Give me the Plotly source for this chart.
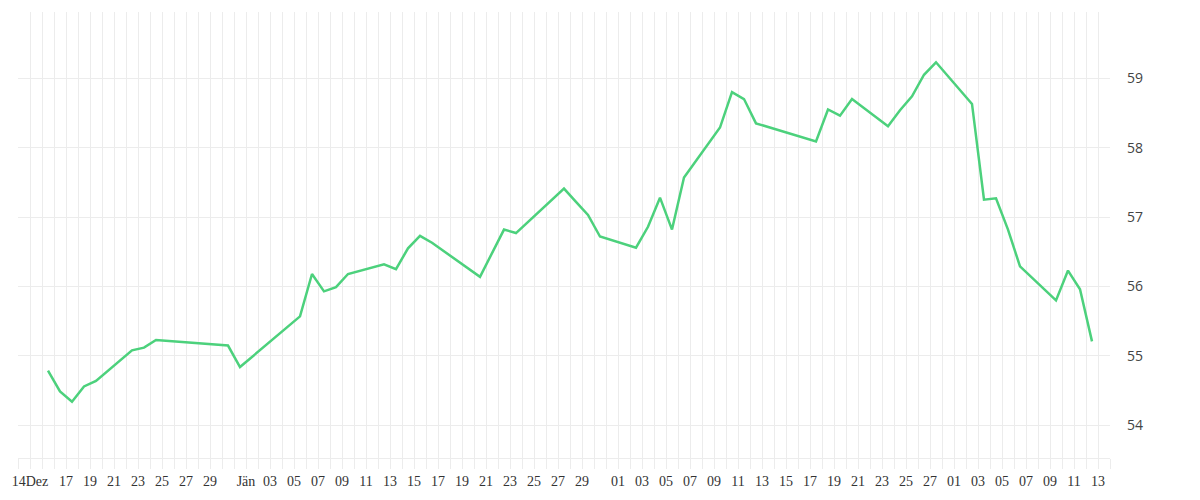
import pandas as pd
import plotly.graph_objects as go

# trading days and closing values
dates = ["2014-12-15", "2014-12-16", "2014-12-17", "2014-12-18", "2014-12-19",
         "2014-12-22", "2014-12-23", "2014-12-24", "2014-12-30", "2014-12-31",
         "2015-01-05", "2015-01-06", "2015-01-07", "2015-01-08", "2015-01-09",
         "2015-01-12", "2015-01-13", "2015-01-14", "2015-01-15", "2015-01-16",
         "2015-01-20", "2015-01-22", "2015-01-23", "2015-01-27", "2015-01-28",
         "2015-01-29", "2015-01-30", "2015-02-02", "2015-02-03", "2015-02-04",
         "2015-02-05", "2015-02-06", "2015-02-09", "2015-02-10", "2015-02-11",
         "2015-02-12", "2015-02-17", "2015-02-18", "2015-02-19", "2015-02-20",
         "2015-02-23", "2015-02-24", "2015-02-25", "2015-02-26", "2015-02-27",
         "2015-03-02", "2015-03-03", "2015-03-04", "2015-03-05", "2015-03-06",
         "2015-03-09", "2015-03-10", "2015-03-11", "2015-03-12"]
values = [54.79, 54.49, 54.34, 54.56, 54.64,
          55.08, 55.12, 55.23, 55.15, 54.84,
          55.57, 56.18, 55.93, 55.99, 56.18,
          56.32, 56.25, 56.55, 56.73, 56.63,
          56.14, 56.82, 56.77, 57.41, 57.22,
          57.03, 56.72, 56.56, 56.86, 57.28,
          56.82, 57.57, 58.29, 58.80, 58.70,
          58.35, 58.09, 58.55, 58.46, 58.70,
          58.31, 58.54, 58.74, 59.05, 59.23,
          58.63, 57.25, 57.27, 56.82, 56.29,
          55.80, 56.23, 55.96, 55.21]

tick_dates = ["2014-12-14", "2014-12-17", "2014-12-19", "2014-12-21", "2014-12-23",
              "2014-12-25", "2014-12-27", "2014-12-29",
              "2015-01-01", "2015-01-03", "2015-01-05", "2015-01-07", "2015-01-09",
              "2015-01-11", "2015-01-13", "2015-01-15", "2015-01-17", "2015-01-19",
              "2015-01-21", "2015-01-23", "2015-01-25", "2015-01-27", "2015-01-29",
              "2015-02-01", "2015-02-03", "2015-02-05", "2015-02-07", "2015-02-09",
              "2015-02-11", "2015-02-13", "2015-02-15", "2015-02-17", "2015-02-19",
              "2015-02-21", "2015-02-23", "2015-02-25", "2015-02-27",
              "2015-03-01", "2015-03-03", "2015-03-05", "2015-03-07", "2015-03-09",
              "2015-03-11", "2015-03-13"]
tick_text = ["14Dez", "17", "19", "21", "23", "25", "27", "29",
             "Jän", "03", "05", "07", "09", "11", "13", "15", "17", "19",
             "21", "23", "25", "27", "29",
             "01", "03", "05", "07", "09", "11", "13", "15", "17", "19",
             "21", "23", "25", "27",
             "01", "03", "05", "07", "09", "11", "13"]
y_ticks = [54, 55, 56, 57, 58, 59]

grid = "#ececec"
x = pd.to_datetime(dates) + pd.Timedelta(hours=12)

fig = go.Figure()
fig.add_trace(go.Scatter(x=x, y=values, mode="lines",
                         line=dict(color="#4cd17c", width=2.5),
                         hoverinfo="x+y"))

# page body adds 8px on left/top, so margins are reduced to match
fig.update_layout(
    width=1200, height=500,
    margin=dict(l=8, r=98, t=4, b=50),
    plot_bgcolor="white", paper_bgcolor="white",
    showlegend=False,
    xaxis=dict(
        type="date",
        range=["2014-12-13", "2015-03-14"],
        tickvals=pd.to_datetime(tick_dates), ticktext=tick_text,
        showgrid=True, gridcolor=grid, gridwidth=1,
        ticks="outside", ticklen=10, tickcolor=grid,
        showline=True, linecolor=grid, linewidth=1,
        zeroline=False,
        tickfont=dict(family="Liberation Serif", size=14, color="#333333"),
        minor=dict(dtick=86400000, showgrid=True, gridcolor=grid, gridwidth=1,
                   ticks="outside", ticklen=10, tickcolor=grid),
    ),
    yaxis=dict(
        side="right",
        range=[53.53, 59.954],
        tickvals=y_ticks,
        showgrid=True, gridcolor=grid, gridwidth=1,
        zeroline=False, showline=False,
        ticklabelstandoff=16,
        tickfont=dict(family="Open Sans", size=14, color="#444444"),
    ),
)

fig.write_html("out.html")
